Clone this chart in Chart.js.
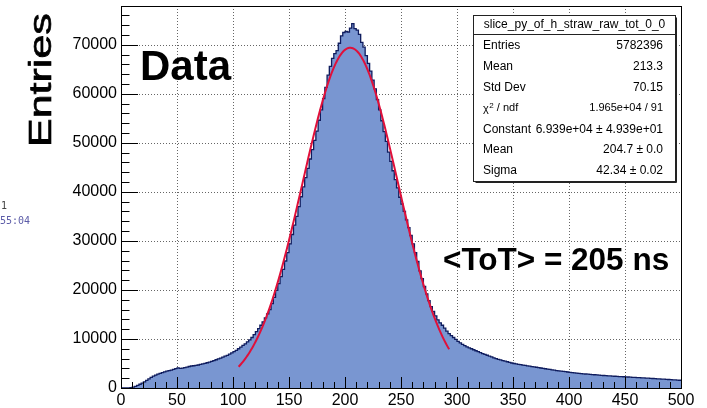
<!DOCTYPE html>
<html>
<head>
<meta charset="utf-8">
<script src="https://cdn.jsdelivr.net/npm/chart.js@4.4.1/dist/chart.umd.min.js"></script>
<style>
  html, body { margin: 0; padding: 0; background: #fff; }
  #wrap { position: relative; width: 707px; height: 408px; }
</style>
</head>
<body>
<div id="wrap"><canvas id="totChart" width="707" height="408"></canvas></div>
<script>
// ToT histogram, 2 ns bins from 0 to 500 ns
const xMin = 0;
const xMax = 500;
const binWidth = 2;
const yMax = 77900;

const binContents = [
  0, 0, 0, 0, 60, 160, 320, 520, 760, 1010,
  1260, 1560, 1860, 2150, 2420, 2640, 2830, 3000, 3140, 3290,
  3440, 3540, 3650, 3790, 3950, 4120, 4010, 4060, 4150, 4240,
  4380, 4490, 4540, 4600, 4690, 4800, 4900, 5040, 5150, 5290,
  5440, 5600, 5760, 5940, 6110, 6300, 6500, 6660, 6900, 7150,
  7400, 7680, 8000, 8320, 8690, 9010, 9420, 9800, 10300, 10900,
  11500, 12100, 12800, 13500, 14300, 15100, 16000, 17200, 18500, 19900,
  21300, 22700, 24200, 25900, 27600, 29400, 31300, 33200, 35000, 37000,
  39000, 41000, 42900, 44800, 46700, 48600, 50500, 52400, 54600, 56700,
  59000, 61300, 63800, 65600, 67200, 68200, 68800, 70300, 71800, 72500,
  72700, 72600, 73400, 74300, 73300, 73000, 72100, 70500, 69500, 67800,
  66200, 64600, 62800, 61000, 58800, 56700, 54500, 52300, 50300, 48100,
  46200, 44300, 42500, 40800, 38900, 37500, 36000, 34300, 32700, 31100,
  29400, 27600, 25800, 23900, 22300, 20700, 19200, 17800, 16600, 15600,
  14700, 13900, 13300, 12800, 12200, 11600, 11100, 10700, 10300, 9900,
  9500, 9200, 8900, 8650, 8400, 8200, 8000, 7800, 7600, 7400,
  7200, 7020, 6850, 6680, 6500, 6330, 6150, 6000, 5850, 5720,
  5600, 5470, 5350, 5220, 5100, 5000, 4900, 4820, 4750, 4670,
  4600, 4520, 4450, 4370, 4300, 4230, 4150, 4080, 4000, 3930,
  3850, 3780, 3700, 3640, 3560, 3500, 3440, 3380, 3320, 3260,
  3200, 3150, 3100, 3050, 3000, 2950, 2900, 2860, 2820, 2780,
  2740, 2700, 2660, 2620, 2590, 2550, 2520, 2490, 2460, 2430,
  2400, 2370, 2340, 2320, 2290, 2260, 2240, 2210, 2180, 2160,
  2130, 2100, 2080, 2050, 2020, 2000, 1970, 1940, 1910, 1880,
  1850, 1820, 1790, 1760, 1730, 1700, 1670, 1640, 1610, 1580
];

const xTickValues = [0, 50, 100, 150, 200, 250, 300, 350, 400, 450, 500];
const yTickValues = [0, 10000, 20000, 30000, 40000, 50000, 60000, 70000];

// gaus fit result
const fitConstant = 6.939e4;
const fitMean = 204.7;
const fitSigma = 42.34;
const fitRange = [105, 293];

const statsTitle = "slice_py_of_h_straw_raw_tot_0_0";
const statsRows = [
  ["Entries", "5782396"],
  ["Mean", "213.3"],
  ["Std Dev", "70.15"],
  ["chi2", "1.965e+04 / 91"],
  ["Constant", "6.939e+04 \u00b1 4.939e+01"],
  ["Mean", "204.7 \u00b1 0.0"],
  ["Sigma", "42.34 \u00b1 0.02"]
];

const FONT = "'Liberation Sans', Arial, Helvetica, sans-serif";

// step outline: one point per low bin edge, plus the closing edge
const histPoints = binContents.map((c, i) => ({ x: xMin + i * binWidth, y: c }));
histPoints.push({ x: xMax, y: binContents[binContents.length - 1] });

const fitPoints = [];
for (let x = fitRange[0]; x <= fitRange[1]; x += 1) {
  const t = (x - fitMean) / fitSigma;
  fitPoints.push({ x: x, y: fitConstant * Math.exp(-0.5 * t * t) });
}

// dotted grid under the histogram
const gridPlugin = {
  id: "rootGrid",
  beforeDatasetsDraw(chart) {
    const { ctx, chartArea: a, scales: { x, y } } = chart;
    ctx.save();
    ctx.strokeStyle = "rgba(0, 0, 0, 0.6)";
    ctx.lineWidth = 1;
    ctx.setLineDash([1, 2]);
    ctx.beginPath();
    xTickValues.forEach((v) => {
      if (v === xMin || v === xMax) return;
      const px = Math.round(x.getPixelForValue(v)) + 0.5;
      ctx.moveTo(px, a.top);
      ctx.lineTo(px, a.bottom);
    });
    yTickValues.forEach((v) => {
      if (v === 0) return;
      const py = Math.round(y.getPixelForValue(v)) + 0.5;
      ctx.moveTo(a.left, py);
      ctx.lineTo(a.right, py);
    });
    ctx.stroke();
    ctx.restore();
  }
};

// frame, inward ticks and axis numbers
const framePlugin = {
  id: "frame",
  afterDatasetsDraw(chart) {
    const { ctx, chartArea: a, scales: { x, y } } = chart;
    ctx.save();
    ctx.strokeStyle = "#000";
    ctx.lineWidth = 1;
    ctx.beginPath();
    for (let v = xMin; v <= xMax; v += 10) {
      const px = Math.round(x.getPixelForValue(v)) + 0.5;
      const len = v % 50 === 0 ? 11 : 6;
      ctx.moveTo(px, a.bottom);
      ctx.lineTo(px, a.bottom - len);
    }
    for (let v = 0; v <= yMax; v += 2000) {
      const py = Math.round(y.getPixelForValue(v)) + 0.5;
      const len = v % 10000 === 0 ? 17 : 8.5;
      ctx.moveTo(a.left, py);
      ctx.lineTo(a.left + len, py);
    }
    ctx.stroke();
    ctx.strokeRect(Math.round(a.left) + 0.5, Math.round(a.top) + 0.5,
      Math.round(a.right - a.left), Math.round(a.bottom - a.top));

    ctx.fillStyle = "#000";
    ctx.font = "16px " + FONT;
    ctx.textBaseline = "middle";
    ctx.textAlign = "center";
    xTickValues.forEach((v) => {
      ctx.fillText(String(v), x.getPixelForValue(v), a.bottom + 13);
    });
    ctx.textAlign = "right";
    yTickValues.forEach((v) => {
      ctx.fillText(String(v), a.left - 4, y.getPixelForValue(v));
    });
    ctx.restore();
  }
};

const textPlugin = {
  id: "labels",
  afterDraw(chart) {
    const ctx = chart.ctx;
    ctx.save();
    ctx.fillStyle = "#000";

    // axis title, stretched along its length
    ctx.save();
    ctx.translate(51, 147);
    ctx.rotate(-Math.PI / 2);
    ctx.scale(1, 0.72);
    ctx.font = "43px " + FONT;
    ctx.textBaseline = "alphabetic";
    ctx.strokeStyle = "#000";
    ctx.lineWidth = 0.9;
    ctx.fillText("Entries", 0, 0);
    ctx.strokeText("Entries", 0, 0);
    ctx.restore();

    ctx.font = "bold 42px " + FONT;
    ctx.fillText("Data", 140, 80);
    ctx.font = "bold 31.5px " + FONT;
    ctx.fillText("<ToT> = 205 ns", 443, 270);

    // stats box
    const bx = 473.5, by = 15.5, bw = 202, bh = 166;
    ctx.fillStyle = "#fff";
    ctx.fillRect(bx, by, bw, bh);
    ctx.strokeStyle = "#222";
    ctx.lineWidth = 1;
    ctx.strokeRect(bx, by, bw, bh);
    ctx.beginPath();
    ctx.moveTo(bx + bw + 1, by + 2);
    ctx.lineTo(bx + bw + 1, by + bh + 1);
    ctx.lineTo(bx + 2, by + bh + 1);
    ctx.moveTo(bx, 34.5);
    ctx.lineTo(bx + bw, 34.5);
    ctx.stroke();

    ctx.fillStyle = "#000";
    ctx.textBaseline = "middle";
    ctx.font = "12px " + FONT;
    ctx.textAlign = "center";
    ctx.fillText(statsTitle, bx + bw / 2, 24.5);
    const left = 483, right = 663;
    statsRows.forEach((row, i) => {
      const cy = 46 + i * 20.8;
      ctx.font = "12px " + FONT;
      ctx.textAlign = "left";
      if (row[0] === "chi2") {
        ctx.font = "11px " + FONT;
        ctx.fillText("\u03c7", left, cy + 1);
        const w = ctx.measureText("\u03c7").width;
        ctx.font = "8px " + FONT;
        ctx.fillText("2", left + w + 0.5, cy - 3);
        ctx.font = "11px " + FONT;
        ctx.fillText(" / ndf", left + w + 5, cy);
      } else {
        ctx.fillText(row[0], left, cy);
      }
      ctx.font = (row[0] === "chi2" ? "11px " : "12px ") + FONT;
      ctx.textAlign = "right";
      ctx.fillText(row[1], right, cy);
    });

    // clipped text from the neighbouring panel
    ctx.textAlign = "left";
    ctx.textBaseline = "alphabetic";
    ctx.font = "10px 'DejaVu Sans Mono', monospace";
    ctx.fillStyle = "#444";
    ctx.fillText("1", 1, 209);
    ctx.fillStyle = "#5c5ca8";
    ctx.fillText("55:04", 0, 224);
    ctx.restore();
  }
};

new Chart(document.getElementById("totChart").getContext("2d"), {
  type: "line",
  data: {
    datasets: [
      {
        label: "fit",
        data: fitPoints,
        borderColor: "#e0103a",
        borderWidth: 2,
        pointRadius: 0,
        fill: false,
        tension: 0,
        order: 0
      },
      {
        label: "hist",
        data: histPoints,
        stepped: "before",
        borderColor: "#0f1c5e",
        borderWidth: 1.3,
        backgroundColor: "#7996d1",
        fill: "origin",
        pointRadius: 0,
        order: 1
      }
    ]
  },
  options: {
    responsive: false,
    animation: false,
    devicePixelRatio: 1,
    layout: { padding: { left: 121, right: 26, top: 6, bottom: 20 } },
    plugins: { legend: { display: false }, tooltip: { enabled: false } },
    scales: {
      x: { type: "linear", min: xMin, max: xMax, display: false },
      y: { type: "linear", min: 0, max: yMax, display: false }
    }
  },
  plugins: [gridPlugin, framePlugin, textPlugin]
});
</script>
</body>
</html>
